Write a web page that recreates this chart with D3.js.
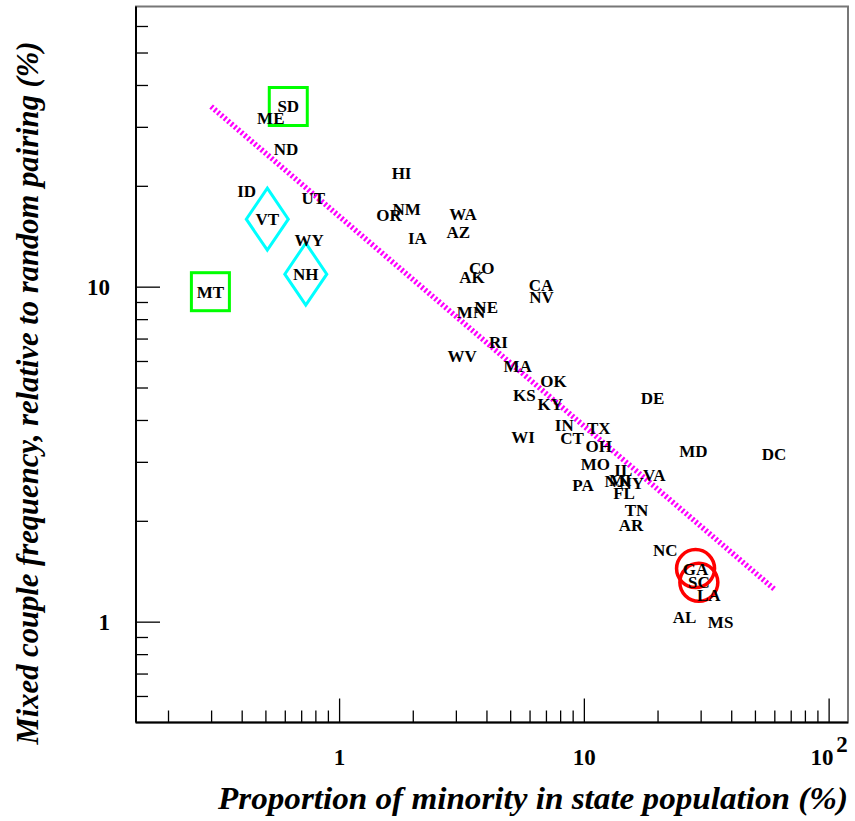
<!DOCTYPE html>
<html>
<head>
<meta charset="utf-8">
<script src="https://cdn.jsdelivr.net/npm/d3@7"></script>
<style>
	body { margin: 0; background: #fff; }
	svg { display: block; font-family: "Liberation Serif", "Times New Roman", serif; }
	.state { font-size: 17px; font-weight: bold; fill: #000; }
	.axis .domain { display: none; }
	.axis line { stroke: #000; stroke-width: 1.3; }
	.title { font-weight: bold; font-style: italic; fill: #000; }
</style>
</head>
<body>
<div id="chart"></div>
<script>
// State labels and values
const states = ["SD", "ME", "ND", "ID", "VT", "UT", "WY", "NH", "MT", "HI",
	"NM", "OR", "IA", "WA", "AZ", "CO", "AK", "CA", "NV", "NE",
	"MN", "RI", "WV", "MA", "OK", "KS", "KY", "DE", "IN", "TX",
	"WI", "CT", "OH", "MD", "DC", "MO", "IL", "VA", "NJ", "MI",
	"NY", "PA", "FL", "TN", "AR", "NC", "GA", "SC", "LA", "AL", "MS"];
const minority = [0.62, 0.526, 0.607, 0.419, 0.509, 0.785, 0.754, 0.731, 0.298, 1.8,
	1.89, 1.6, 2.09, 3.21, 3.07, 3.83, 3.49, 6.68, 6.72, 3.99,
	3.46, 4.48, 3.18, 5.36, 7.52, 5.71, 7.29, 19.1, 8.32, 11.5,
	5.64, 8.95, 11.5, 28.0, 59.8, 11.15, 14.5, 19.4, 13.4, 14.1,
	15.7, 9.92, 14.6, 16.4, 15.6, 21.5, 28.6, 29.5, 32.4, 25.8, 36.2];
const mixedFreq = [34.5, 31.9, 25.8, 19.3, 15.9, 18.4, 13.8, 10.9, 9.66, 21.9,
	17.0, 16.4, 13.98, 16.5, 14.6, 11.4, 10.7, 10.1, 9.32, 8.7,
	8.4, 6.84, 6.22, 5.78, 5.24, 4.74, 4.47, 4.65, 3.87, 3.79,
	3.56, 3.53, 3.35, 3.24, 3.17, 2.96, 2.84, 2.73, 2.62, 2.64,
	2.6, 2.55, 2.42, 2.16, 1.94, 1.64, 1.44, 1.31, 1.2, 1.03, 1.0];

// Highlighted states
const boxStates = ["SD", "MT"];
const diamondStates = ["VT", "NH"];
const circleStates = ["GA", "SC"];

// Power-law fit, end points
const fitX = [0.3, 60];
const fitY = [34.5, 1.25];

// Axis ranges and ticks
const xDomain = [0.148, 120];
const yDomain = [0.5, 68.6];
const xMajor = [1, 10, 100];
const xMinor = [0.2, 0.3, 0.4, 0.5, 0.6, 0.7, 0.8, 0.9, 2, 3, 4, 5, 6, 7, 8, 9, 20, 30, 40, 50, 60, 70, 80, 90];
const yMajor = [1, 10];
const yMinor = [0.6, 0.7, 0.8, 0.9, 2, 3, 4, 5, 6, 7, 8, 9, 20, 30, 40, 50, 60];

const W = 855, H = 821;
const frame = { left: 136, right: 848, top: 6.5, bottom: 722.5 };

const svg = d3.select("#chart").append("svg")
	.attr("width", W)
	.attr("height", H)
	.attr("viewBox", `0 0 ${W} ${H}`);

const x = d3.scaleLog().domain(xDomain).range([frame.left, frame.right]);
const y = d3.scaleLog().domain(yDomain).range([frame.bottom, frame.top]);

// Frame
svg.append("rect")
	.attr("x", frame.left)
	.attr("y", frame.top)
	.attr("width", frame.right - frame.left)
	.attr("height", frame.bottom - frame.top)
	.attr("fill", "none")
	.attr("stroke", "#777")
	.attr("stroke-width", 2);

function styleLabels(g) {
	g.selectAll(".tick text")
		.attr("fill", "#000")
		.style("font-family", "'Liberation Serif', serif")
		.style("font-weight", "bold")
		.style("font-size", "23px");
}

// Y axis
svg.append("g")
	.attr("class", "axis")
	.attr("transform", `translate(${frame.left},0)`)
	.call(d3.axisLeft(y).tickValues(yMajor).tickSize(-24).tickPadding(26).tickFormat(d3.format("d")))
	.call(styleLabels);
svg.append("g")
	.attr("class", "axis")
	.attr("transform", `translate(${frame.left},0)`)
	.call(d3.axisLeft(y).tickValues(yMinor).tickSize(-12).tickFormat(""));

// X axis
const xAxisG = svg.append("g")
	.attr("class", "axis")
	.attr("transform", `translate(0,${frame.bottom})`)
	.call(d3.axisBottom(x).tickValues(xMajor).tickSize(-24).tickPadding(26).tickFormat(d3.format("d")))
	.call(styleLabels);
xAxisG.selectAll(".tick text").each(function (d) {
	if (d === 100) {
		const t = d3.select(this).text("10");
		t.append("tspan").attr("dy", "-0.55em").attr("dx", "0.12em").text("2");
	}
});
svg.append("g")
	.attr("class", "axis")
	.attr("transform", `translate(0,${frame.bottom})`)
	.call(d3.axisBottom(x).tickValues(xMinor).tickSize(-12).tickFormat(""));

// Axis lines
svg.append("line")
	.attr("x1", frame.left).attr("x2", frame.left)
	.attr("y1", frame.top).attr("y2", frame.bottom)
	.attr("stroke", "#000").attr("stroke-width", 2);
svg.append("line")
	.attr("x1", frame.left).attr("x2", frame.right)
	.attr("y1", frame.bottom).attr("y2", frame.bottom)
	.attr("stroke", "#000").attr("stroke-width", 2);

// Fit line
const fitData = fitX.map((v, i) => [v, fitY[i]]);
svg.append("path")
	.attr("d", d3.line().x((d) => x(d[0])).y((d) => y(d[1]))(fitData))
	.attr("fill", "none")
	.attr("stroke", "#ff00ff")
	.attr("stroke-width", 5.5)
	.attr("stroke-dasharray", "2.2,2.2");

const data = states.map((s, i) => ({ state: s, x: minority[i], y: mixedFreq[i] }));

// Markers
svg.selectAll(".box")
	.data(data.filter((d) => boxStates.includes(d.state)))
	.enter()
	.append("rect")
	.attr("x", (d) => x(d.x) - 19)
	.attr("y", (d) => y(d.y) - 19)
	.attr("width", 38)
	.attr("height", 38)
	.attr("fill", "none")
	.attr("stroke", "#00ff00")
	.attr("stroke-width", 3);

svg.selectAll(".diamond")
	.data(data.filter((d) => diamondStates.includes(d.state)))
	.enter()
	.append("path")
	.attr("transform", (d) => `translate(${x(d.x)},${y(d.y)})`)
	.attr("d", "M0,-31L21,0L0,31L-21,0Z")
	.attr("fill", "none")
	.attr("stroke", "#00ffff")
	.attr("stroke-width", 3);

svg.selectAll(".ring")
	.data(data.filter((d) => circleStates.includes(d.state)))
	.enter()
	.append("circle")
	.attr("cx", (d) => x(d.x))
	.attr("cy", (d) => y(d.y))
	.attr("r", 19)
	.attr("fill", "none")
	.attr("stroke", "#ff0000")
	.attr("stroke-width", 3.5);

// State labels
svg.selectAll(".state")
	.data(data)
	.enter()
	.append("text")
	.attr("class", "state")
	.attr("x", (d) => x(d.x))
	.attr("y", (d) => y(d.y))
	.attr("dy", "0.35em")
	.attr("text-anchor", "middle")
	.text((d) => d.state);

// Axis titles
svg.append("text")
	.attr("class", "title")
	.attr("x", 533)
	.attr("y", 809)
	.attr("text-anchor", "middle")
	.style("font-size", "32px")
	.attr("textLength", 630)
	.attr("lengthAdjust", "spacingAndGlyphs")
	.text("Proportion of minority in state population (%)");

svg.append("text")
	.attr("class", "title")
	.attr("transform", "translate(38,393) rotate(-90)")
	.attr("text-anchor", "middle")
	.style("font-size", "32px")
	.attr("textLength", 703)
	.attr("lengthAdjust", "spacingAndGlyphs")
	.text("Mixed couple frequency, relative to random pairing (%)");
</script>
</body>
</html>
